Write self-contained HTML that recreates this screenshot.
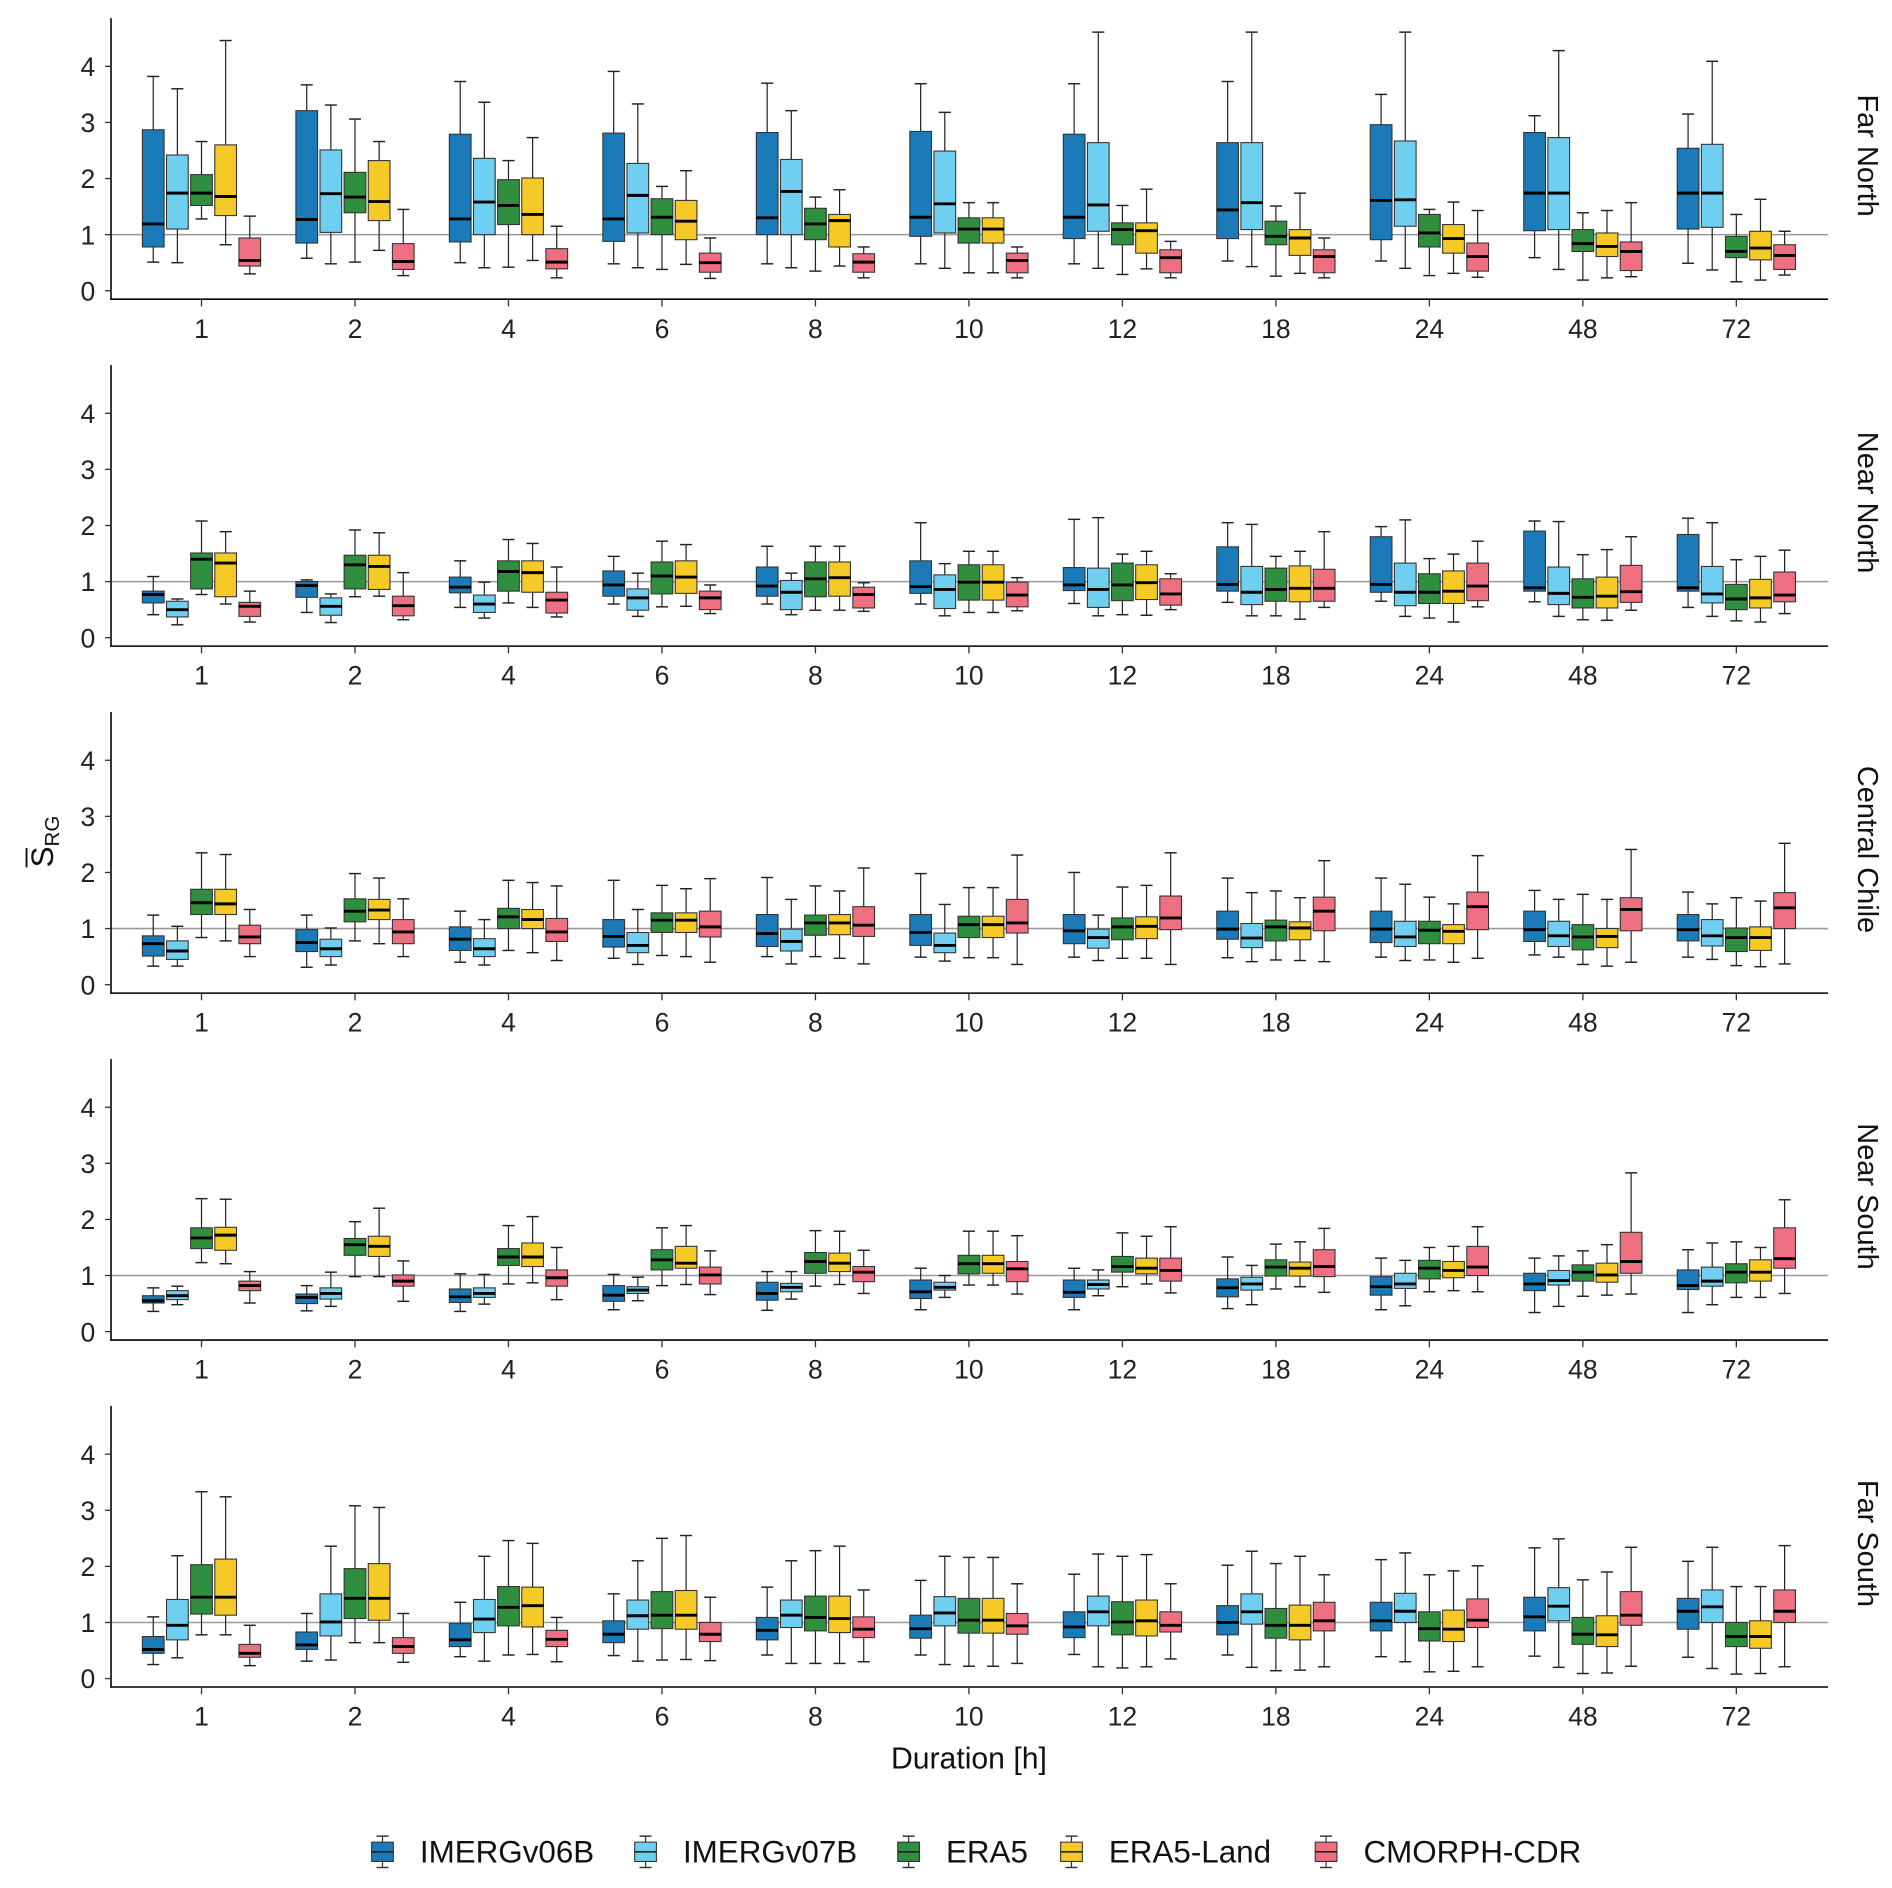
<!DOCTYPE html>
<html><head><meta charset="utf-8"><style>
html,body{margin:0;padding:0;background:#fff;}
svg{display:block;font-family:"Liberation Sans",Arial,sans-serif;}
</style></head><body>
<svg id="chart" xmlns="http://www.w3.org/2000/svg" width="1892" height="1888" viewBox="0 0 1568 1565" preserveAspectRatio="none"></svg>
<script>
const categories = ["1","2","4","6","8","10","12","18","24","48","72"];
const panels = ["Far North","Near North","Central Chile","Near South","Far South"];
const seriesNames = ["IMERGv06B","IMERGv07B","ERA5","ERA5-Land","CMORPH-CDR"];
const seriesColors = ["#1a7bb8","#6fcff0","#2f8f3f","#f5c926","#ee7080"];
const yTicks = [0,1,2,3,4];
// each entry: [whisker low, q1, median, q3, whisker high]
const farNorth_IMERGv06B = [[0.51,0.78,1.19,2.87,3.82],[0.58,0.85,1.27,3.21,3.67],[0.5,0.87,1.28,2.79,3.73],[0.48,0.88,1.28,2.81,3.91],[0.48,1.0,1.3,2.82,3.7],[0.48,0.97,1.31,2.84,3.69],[0.48,0.93,1.31,2.79,3.69],[0.53,0.93,1.44,2.64,3.73],[0.53,0.91,1.61,2.96,3.5],[0.59,1.07,1.74,2.82,3.12],[0.49,1.1,1.74,2.54,3.15]];
const farNorth_IMERGv07B = [[0.5,1.1,1.74,2.42,3.6],[0.48,1.04,1.73,2.51,3.31],[0.41,1.0,1.58,2.36,3.36],[0.41,1.03,1.7,2.27,3.33],[0.41,1.0,1.77,2.34,3.21],[0.4,1.03,1.55,2.49,3.18],[0.4,1.06,1.53,2.64,4.61],[0.43,1.09,1.57,2.64,4.61],[0.4,1.15,1.62,2.67,4.61],[0.38,1.09,1.74,2.73,4.28],[0.37,1.13,1.74,2.61,4.09]];
const farNorth_ERA5 = [[1.28,1.52,1.74,2.07,2.66],[0.51,1.39,1.67,2.11,3.06],[0.42,1.18,1.52,1.98,2.32],[0.38,1.0,1.31,1.64,1.86],[0.35,0.91,1.19,1.47,1.67],[0.32,0.85,1.1,1.3,1.57],[0.29,0.82,1.09,1.21,1.52],[0.26,0.82,0.97,1.24,1.51],[0.27,0.78,1.03,1.36,1.45],[0.19,0.7,0.84,1.09,1.39],[0.16,0.59,0.7,0.97,1.36]];
const farNorth_ERA5Land = [[0.82,1.34,1.68,2.6,4.46],[0.72,1.25,1.59,2.32,2.66],[0.54,1.0,1.36,2.01,2.73],[0.47,0.91,1.24,1.61,2.14],[0.44,0.78,1.25,1.36,1.8],[0.32,0.85,1.1,1.3,1.57],[0.39,0.67,1.07,1.21,1.81],[0.31,0.63,0.94,1.09,1.74],[0.31,0.67,0.93,1.18,1.58],[0.23,0.61,0.79,1.03,1.43],[0.19,0.55,0.76,1.06,1.63]];
const farNorth_CMORPH = [[0.3,0.44,0.54,0.94,1.33],[0.27,0.38,0.52,0.84,1.45],[0.23,0.39,0.51,0.75,1.15],[0.22,0.33,0.5,0.67,0.94],[0.23,0.33,0.51,0.66,0.78],[0.23,0.32,0.54,0.67,0.78],[0.23,0.32,0.59,0.73,0.88],[0.23,0.32,0.61,0.73,0.94],[0.24,0.35,0.61,0.85,1.43],[0.25,0.36,0.7,0.87,1.57],[0.28,0.38,0.63,0.82,1.06]];

const nearNorth_IMERGv06B = [[0.41,0.62,0.77,0.83,1.09],[0.45,0.72,0.93,1.0,1.03],[0.54,0.8,0.9,1.08,1.37],[0.6,0.74,0.94,1.19,1.45],[0.6,0.74,0.92,1.26,1.63],[0.6,0.79,0.91,1.37,2.05],[0.61,0.84,0.94,1.25,2.11],[0.63,0.83,0.95,1.62,2.05],[0.65,0.81,0.95,1.8,1.98],[0.64,0.83,0.89,1.9,2.08],[0.54,0.83,0.89,1.84,2.13]];
const nearNorth_IMERGv07B = [[0.23,0.37,0.5,0.65,0.69],[0.27,0.4,0.56,0.71,0.78],[0.35,0.45,0.6,0.76,0.99],[0.38,0.49,0.71,0.87,1.15],[0.41,0.5,0.81,1.02,1.15],[0.39,0.52,0.86,1.12,1.32],[0.39,0.54,0.86,1.24,2.14],[0.39,0.59,0.81,1.27,2.02],[0.38,0.57,0.81,1.33,2.1],[0.38,0.59,0.79,1.26,2.07],[0.38,0.62,0.78,1.27,2.05]];
const nearNorth_ERA5 = [[0.77,0.87,1.4,1.51,2.08],[0.73,0.87,1.3,1.47,1.92],[0.62,0.83,1.18,1.37,1.75],[0.55,0.78,1.1,1.35,1.72],[0.49,0.73,1.05,1.35,1.63],[0.45,0.67,0.99,1.3,1.54],[0.41,0.66,0.94,1.33,1.49],[0.39,0.65,0.86,1.24,1.45],[0.35,0.61,0.81,1.14,1.41],[0.32,0.53,0.72,1.05,1.48],[0.3,0.5,0.69,0.95,1.39]];
const nearNorth_ERA5Land = [[0.6,0.73,1.33,1.51,1.89],[0.74,0.86,1.27,1.47,1.87],[0.54,0.81,1.16,1.37,1.68],[0.56,0.79,1.08,1.37,1.66],[0.49,0.74,1.07,1.35,1.63],[0.45,0.67,0.99,1.3,1.54],[0.4,0.68,0.98,1.3,1.54],[0.33,0.64,0.88,1.28,1.54],[0.28,0.61,0.83,1.19,1.49],[0.31,0.53,0.74,1.08,1.57],[0.28,0.53,0.71,1.04,1.45]];
const nearNorth_CMORPH = [[0.28,0.38,0.56,0.63,0.83],[0.32,0.39,0.57,0.74,1.16],[0.37,0.44,0.67,0.81,1.26],[0.43,0.5,0.71,0.83,0.94],[0.47,0.53,0.77,0.9,0.98],[0.48,0.55,0.76,0.99,1.07],[0.5,0.58,0.78,1.05,1.14],[0.54,0.65,0.88,1.22,1.89],[0.55,0.66,0.92,1.33,1.72],[0.49,0.63,0.82,1.29,1.8],[0.43,0.64,0.76,1.17,1.56]];

const central_IMERGv06B = [[0.33,0.51,0.73,0.87,1.24],[0.31,0.59,0.75,0.98,1.24],[0.4,0.61,0.81,1.03,1.31],[0.47,0.67,0.86,1.16,1.86],[0.5,0.68,0.91,1.25,1.91],[0.49,0.7,0.93,1.25,1.98],[0.49,0.73,0.96,1.25,2.0],[0.48,0.81,0.99,1.31,1.9],[0.49,0.75,0.99,1.31,1.9],[0.53,0.77,0.98,1.31,1.68],[0.49,0.78,0.98,1.25,1.65]];
const central_IMERGv07B = [[0.33,0.45,0.6,0.78,1.04],[0.35,0.5,0.64,0.81,1.01],[0.35,0.5,0.64,0.82,1.16],[0.36,0.57,0.7,0.93,1.34],[0.37,0.6,0.77,0.99,1.52],[0.42,0.57,0.7,0.92,1.43],[0.43,0.65,0.84,0.99,1.24],[0.41,0.66,0.83,1.09,1.64],[0.43,0.68,0.85,1.13,1.79],[0.49,0.68,0.87,1.13,1.52],[0.45,0.69,0.87,1.16,1.44]];
const central_ERA5 = [[0.84,1.25,1.46,1.7,2.35],[0.78,1.12,1.31,1.53,1.98],[0.61,1.0,1.21,1.36,1.86],[0.52,0.93,1.15,1.28,1.77],[0.5,0.88,1.1,1.24,1.76],[0.48,0.84,1.07,1.22,1.73],[0.47,0.8,1.03,1.19,1.74],[0.44,0.78,1.03,1.15,1.67],[0.44,0.73,0.97,1.13,1.56],[0.36,0.62,0.85,1.07,1.61],[0.34,0.59,0.84,1.01,1.55]];
const central_ERA5Land = [[0.78,1.25,1.44,1.7,2.32],[0.73,1.16,1.33,1.52,1.9],[0.57,1.0,1.16,1.34,1.82],[0.5,0.93,1.15,1.28,1.71],[0.47,0.89,1.1,1.25,1.67],[0.48,0.84,1.07,1.22,1.73],[0.47,0.82,1.04,1.21,1.77],[0.43,0.8,1.01,1.12,1.55],[0.4,0.73,0.95,1.07,1.44],[0.33,0.66,0.86,1.0,1.52],[0.32,0.61,0.84,1.03,1.49]];
const central_CMORPH = [[0.5,0.73,0.85,1.06,1.34],[0.5,0.73,0.94,1.16,1.53],[0.43,0.77,0.94,1.18,1.76],[0.4,0.85,1.03,1.31,1.89],[0.37,0.86,1.06,1.39,2.08],[0.36,0.92,1.1,1.52,2.31],[0.36,0.98,1.19,1.58,2.35],[0.41,0.96,1.31,1.56,2.21],[0.47,0.98,1.39,1.65,2.3],[0.4,0.96,1.34,1.55,2.41],[0.37,1.0,1.37,1.64,2.52]];

const nearSouth_IMERGv06B = [[0.36,0.51,0.55,0.64,0.78],[0.37,0.5,0.61,0.67,0.82],[0.36,0.52,0.62,0.76,1.03],[0.39,0.54,0.65,0.82,1.02],[0.38,0.56,0.68,0.88,1.07],[0.39,0.59,0.71,0.92,1.13],[0.39,0.61,0.7,0.92,1.13],[0.41,0.62,0.78,0.94,1.33],[0.39,0.65,0.8,0.98,1.31],[0.34,0.73,0.85,1.04,1.31],[0.34,0.75,0.82,1.1,1.46]];
const nearSouth_IMERGv07B = [[0.48,0.57,0.64,0.73,0.81],[0.45,0.58,0.68,0.78,1.06],[0.49,0.61,0.68,0.78,1.02],[0.55,0.68,0.74,0.8,0.97],[0.58,0.71,0.79,0.86,1.07],[0.61,0.74,0.79,0.88,1.0],[0.64,0.76,0.84,0.92,1.1],[0.48,0.74,0.85,0.97,1.18],[0.46,0.77,0.85,1.04,1.27],[0.45,0.83,0.91,1.09,1.35],[0.48,0.81,0.9,1.15,1.58]];
const nearSouth_ERA5 = [[1.23,1.48,1.67,1.85,2.37],[0.98,1.36,1.55,1.66,1.96],[0.85,1.18,1.33,1.48,1.89],[0.82,1.1,1.28,1.46,1.85],[0.81,1.04,1.25,1.41,1.8],[0.83,1.03,1.21,1.36,1.79],[0.8,1.06,1.16,1.34,1.76],[0.76,0.99,1.15,1.28,1.56],[0.71,0.94,1.13,1.27,1.5],[0.63,0.9,1.06,1.19,1.44],[0.61,0.87,1.06,1.21,1.6]];
const nearSouth_ERA5Land = [[1.21,1.45,1.72,1.86,2.36],[0.98,1.34,1.52,1.7,2.2],[0.87,1.16,1.33,1.58,2.05],[0.84,1.13,1.22,1.52,1.89],[0.84,1.07,1.22,1.4,1.79],[0.83,1.04,1.21,1.36,1.79],[0.85,1.03,1.13,1.31,1.7],[0.8,0.99,1.13,1.24,1.6],[0.73,0.96,1.09,1.25,1.52],[0.65,0.88,1.01,1.22,1.55],[0.61,0.9,1.06,1.28,1.5]];
const nearSouth_CMORPH = [[0.51,0.73,0.82,0.9,1.07],[0.54,0.81,0.9,1.01,1.26],[0.57,0.81,0.96,1.1,1.5],[0.66,0.85,1.01,1.15,1.44],[0.68,0.89,1.06,1.16,1.45],[0.67,0.89,1.12,1.25,1.71],[0.69,0.9,1.09,1.31,1.87],[0.7,0.98,1.16,1.46,1.84],[0.71,1.0,1.15,1.52,1.87],[0.67,1.04,1.25,1.77,2.83],[0.68,1.13,1.3,1.85,2.35]];

const farSouth_IMERGv06B = [[0.25,0.45,0.52,0.75,1.1],[0.31,0.52,0.6,0.83,1.16],[0.39,0.57,0.69,0.98,1.36],[0.41,0.64,0.79,1.03,1.51],[0.42,0.69,0.86,1.09,1.63],[0.42,0.72,0.89,1.13,1.75],[0.43,0.73,0.92,1.19,1.86],[0.42,0.78,1.0,1.3,2.02],[0.39,0.85,1.03,1.36,2.12],[0.4,0.85,1.1,1.45,2.33],[0.38,0.88,1.2,1.43,2.09]];
const farSouth_IMERGv07B = [[0.37,0.69,0.95,1.41,2.19],[0.33,0.76,1.01,1.51,2.36],[0.31,0.82,1.06,1.41,2.18],[0.31,0.88,1.12,1.4,2.1],[0.27,0.91,1.13,1.4,2.1],[0.25,0.94,1.17,1.46,2.18],[0.21,0.94,1.19,1.47,2.22],[0.2,0.97,1.19,1.51,2.27],[0.3,1.0,1.2,1.52,2.24],[0.2,1.03,1.29,1.62,2.49],[0.18,1.0,1.28,1.58,2.34]];
const farSouth_ERA5 = [[0.78,1.15,1.45,2.03,3.33],[0.64,1.07,1.43,1.96,3.08],[0.42,0.94,1.27,1.64,2.46],[0.33,0.89,1.13,1.55,2.5],[0.27,0.85,1.09,1.47,2.28],[0.22,0.81,1.04,1.43,2.16],[0.19,0.78,1.01,1.37,2.18],[0.14,0.72,0.95,1.25,2.05],[0.12,0.67,0.89,1.19,1.85],[0.09,0.61,0.79,1.09,1.76],[0.08,0.57,0.75,1.0,1.64]];
const farSouth_ERA5Land = [[0.78,1.13,1.45,2.13,3.24],[0.64,1.04,1.43,2.05,3.05],[0.43,0.92,1.3,1.63,2.41],[0.34,0.88,1.13,1.57,2.55],[0.27,0.82,1.07,1.47,2.36],[0.22,0.81,1.04,1.43,2.16],[0.21,0.76,1.03,1.4,2.21],[0.15,0.69,0.95,1.31,2.18],[0.13,0.66,0.88,1.22,1.92],[0.1,0.57,0.78,1.12,1.9],[0.09,0.54,0.75,1.03,1.64]];
const farSouth_CMORPH = [[0.23,0.38,0.45,0.61,0.95],[0.29,0.45,0.57,0.73,1.16],[0.3,0.57,0.7,0.86,1.09],[0.32,0.66,0.79,1.0,1.45],[0.3,0.73,0.88,1.1,1.58],[0.27,0.79,0.94,1.16,1.69],[0.35,0.83,0.95,1.19,1.69],[0.21,0.85,1.03,1.36,1.85],[0.21,0.91,1.04,1.42,2.01],[0.22,0.95,1.13,1.55,2.34],[0.21,1.0,1.2,1.58,2.37]];

const panelData = [
  [farNorth_IMERGv06B,farNorth_IMERGv07B,farNorth_ERA5,farNorth_ERA5Land,farNorth_CMORPH],
  [nearNorth_IMERGv06B,nearNorth_IMERGv07B,nearNorth_ERA5,nearNorth_ERA5Land,nearNorth_CMORPH],
  [central_IMERGv06B,central_IMERGv07B,central_ERA5,central_ERA5Land,central_CMORPH],
  [nearSouth_IMERGv06B,nearSouth_IMERGv07B,nearSouth_ERA5,nearSouth_ERA5Land,nearSouth_CMORPH],
  [farSouth_IMERGv06B,farSouth_IMERGv07B,farSouth_ERA5,farSouth_ERA5Land,farSouth_CMORPH]
];

const NS="http://www.w3.org/2000/svg";
const svg=document.getElementById('chart');
function mk(tag,attrs,parent){const e=document.createElementNS(NS,tag);for(const k in attrs)e.setAttribute(k,attrs[k]);(parent||svg).appendChild(e);return e;}

const X0=92, X1=1515, CAT0=167, CATSTEP=127.2, UNIT=46.5, PANEL_STEP=287.6, BASE0=241;
const OFFS=[-40,-20,0,20,40], BW=18, CAP=5;
function xCat(i){return CAT0+i*CATSTEP;}
function yScale(p,v){return BASE0+p*PANEL_STEP - v*UNIT;}

panels.forEach((pname,p)=>{
  const g=mk('g',{});
  
  
  const y0=yScale(p,0);
  const ref=mk('line',{x1:X0,x2:X1,y1:yScale(p,1),y2:yScale(p,1),stroke:'#9a9a9a','stroke-width':1.3},g);
  
  
  const ya=mk('line',{x1:X0,x2:X0,y1:y0-226,y2:y0+7.6,stroke:'#000','stroke-width':1.3},g);
  
  
  const xa=mk('line',{x1:X0-0.6,x2:X1,y1:y0+7,y2:y0+7,stroke:'#000','stroke-width':1.3},g);
  
  
  yTicks.forEach(t=>{
    const yy=yScale(p,t);
    mk('line',{x1:X0-5,x2:X0,y1:yy,y2:yy,stroke:'#333','stroke-width':1.1},g);
    const tx=mk('text',{x:X0-13,y:yy+8,'font-size':22,'text-anchor':'end',fill:'#222'},g);
    tx.textContent=t;
    
    
  });
  categories.forEach((c,i)=>{
    const xx=xCat(i);
    mk('line',{x1:xx,x2:xx,y1:y0+7,y2:y0+13,stroke:'#333','stroke-width':1.1},g);
    const tx=mk('text',{x:xx,y:y0+39,'font-size':22,'text-anchor':'middle',fill:'#222'},g);
    tx.textContent=c;
    
    
  });
  panelData[p].forEach((series,s)=>{
    series.forEach((d,i)=>{
      const cx=xCat(i)+OFFS[s];
      const bg=mk('g',{},g);
      
      
      const yLo=yScale(p,d[0]),yQ1=yScale(p,d[1]),yMed=yScale(p,d[2]),yQ3=yScale(p,d[3]),yHi=yScale(p,d[4]);
      mk('line',{x1:cx,x2:cx,y1:yHi,y2:yQ3,stroke:'#222','stroke-width':1},bg);
      mk('line',{x1:cx,x2:cx,y1:yQ1,y2:yLo,stroke:'#222','stroke-width':1},bg);
      mk('line',{x1:cx-CAP,x2:cx+CAP,y1:yHi,y2:yHi,stroke:'#222','stroke-width':1.2},bg);
      mk('line',{x1:cx-CAP,x2:cx+CAP,y1:yLo,y2:yLo,stroke:'#222','stroke-width':1.2},bg);
      mk('rect',{x:cx-BW/2,y:yQ3,width:BW,height:Math.max(0.5,yQ1-yQ3),fill:seriesColors[s],stroke:'#333','stroke-width':0.9},bg);
      mk('line',{x1:cx-BW/2,x2:cx+BW/2,y1:yMed,y2:yMed,stroke:'#000','stroke-width':2.4},bg);
    });
  });
  const sy=y0-112;
  const st=mk('text',{x:1540,y:sy,'font-size':24,'text-anchor':'middle',fill:'#111',transform:`rotate(90 1540 ${sy})`},g);
  st.textContent=pname;
  
  
});

const yt=mk('g',{transform:'translate(44 705) rotate(-90)'});


const ytt=mk('text',{x:-14,y:0,'font-size':26,fill:'#111'},yt);
ytt.innerHTML='S<tspan font-size="17" dy="5">RG</tspan>';
mk('line',{x1:-14,x2:2,y1:-22,y2:-22,stroke:'#111','stroke-width':1.6},yt);

const xt=mk('text',{x:803,y:1466,'font-size':25,'text-anchor':'middle',fill:'#111'});
xt.textContent='Duration [h]';



const legX=[317,535,753,888,1099];
const legend=mk('g',{});


seriesNames.forEach((n,s)=>{
  const cx=legX[s], cy=1535;
  const e=mk('g',{},legend);
  
  
  mk('line',{x1:cx,x2:cx,y1:cy-13,y2:cy+13,stroke:'#333','stroke-width':1},e);
  mk('line',{x1:cx-5,x2:cx+5,y1:cy-13,y2:cy-13,stroke:'#333','stroke-width':1.2},e);
  mk('line',{x1:cx-5,x2:cx+5,y1:cy+13,y2:cy+13,stroke:'#333','stroke-width':1.2},e);
  mk('rect',{x:cx-9,y:cy-8,width:18,height:16,fill:seriesColors[s],stroke:'#333','stroke-width':0.9},e);
  mk('line',{x1:cx-9,x2:cx+9,y1:cy,y2:cy,stroke:'#222','stroke-width':1.3},e);
  const t=mk('text',{x:cx+31,y:cy+9,'font-size':26,fill:'#111'},e);
  t.textContent=n;
});
</script>
</body></html>
